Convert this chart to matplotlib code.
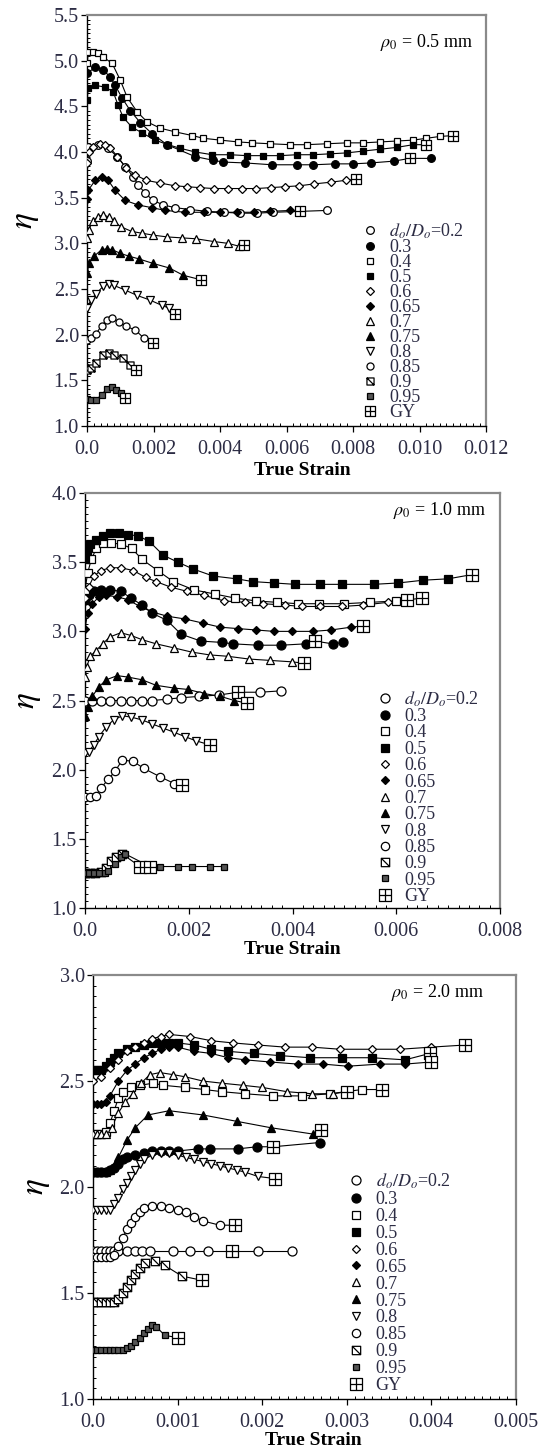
import numpy as np
import matplotlib
matplotlib.use("Agg")
import matplotlib.pyplot as plt
from matplotlib.lines import Line2D
from matplotlib.path import Path
from matplotlib.ticker import MultipleLocator, FuncFormatter

plt.rcParams["font.family"] = ["Liberation Serif", "DejaVu Serif"]
plt.rcParams["mathtext.fontset"] = "stix"

# strain values below are in units of 1e-3
codes = ["0.2", "0.3", "0.4", "0.5", "0.6", "0.65", "0.7", "0.75", "0.8", "0.85", "0.9", "0.95"]

# ---- rho0 = 0.5 mm ----
p1_02_x = [0, 0.03, 0.33, 0.63, 0.9, 1.14, 1.38, 1.53, 1.74, 1.98, 2.29, 2.65, 3.1, 3.6, 4.1, 4.6, 5.1, 5.6, 7.2]
p1_02_y = [3.9, 4.05, 4.08, 4.04, 3.95, 3.84, 3.73, 3.64, 3.55, 3.47, 3.42, 3.39, 3.37, 3.35, 3.34, 3.33, 3.33, 3.34, 3.36]
p1_03_x = [0, 0.24, 0.48, 0.69, 0.84, 1.05, 1.3, 1.6, 1.95, 2.4, 3.24, 3.78, 4.08, 4.75, 5.56, 6.3, 6.8, 7.45, 7.98, 8.52, 9.22, 10.34]
p1_03_y = [4.86, 4.93, 4.9, 4.82, 4.73, 4.59, 4.45, 4.32, 4.2, 4.08, 3.95, 3.91, 3.89, 3.88, 3.86, 3.86, 3.86, 3.87, 3.87, 3.88, 3.9, 3.93]
p1_04_x = [0, 0.03, 0.18, 0.33, 0.48, 0.75, 0.99, 1.2, 1.5, 1.8, 2.2, 2.65, 3.16, 3.49, 4.0, 4.54, 4.96, 5.5, 6.1, 6.6, 7.2, 7.8, 8.3, 8.8, 9.3, 9.8, 10.2, 10.6]
p1_04_y = [4.97, 5.09, 5.09, 5.08, 5.04, 4.97, 4.79, 4.6, 4.44, 4.33, 4.26, 4.22, 4.18, 4.15, 4.13, 4.11, 4.1, 4.09, 4.08, 4.08, 4.09, 4.1, 4.1, 4.11, 4.12, 4.13, 4.15, 4.17]
p1_05_x = [0, 0.03, 0.24, 0.54, 0.78, 0.93, 1.08, 1.35, 1.65, 2.04, 2.43, 2.8, 3.25, 3.76, 4.3, 4.8, 5.3, 5.8, 6.3, 6.8, 7.3, 7.8, 8.3, 8.8, 9.3, 9.8]
p1_05_y = [4.57, 4.7, 4.73, 4.71, 4.66, 4.51, 4.38, 4.27, 4.21, 4.13, 4.08, 4.04, 4.0, 3.97, 3.97, 3.96, 3.96, 3.96, 3.97, 3.97, 3.98, 3.99, 4.01, 4.03, 4.05, 4.08]
p1_06_x = [0, 0.05, 0.16, 0.38, 0.54, 0.7, 0.91, 1.18, 1.45, 1.77, 2.2, 2.63, 3.0, 3.38, 3.8, 4.23, 4.66, 5.09, 5.52, 5.95, 6.38, 6.81, 7.34, 7.77]
p1_06_y = [3.88, 4.0, 4.06, 4.09, 4.08, 4.04, 3.95, 3.82, 3.75, 3.69, 3.66, 3.63, 3.62, 3.61, 3.6, 3.6, 3.6, 3.6, 3.61, 3.62, 3.63, 3.65, 3.67, 3.69]
p1_065_x = [0, 0.03, 0.24, 0.45, 0.63, 0.84, 1.14, 1.53, 1.95, 2.35, 2.95, 3.5, 4.0, 4.5, 5.0, 5.5, 6.1]
p1_065_y = [3.48, 3.58, 3.69, 3.73, 3.69, 3.58, 3.47, 3.42, 3.39, 3.36, 3.34, 3.34, 3.34, 3.34, 3.34, 3.35, 3.36]
p1_07_x = [0, 0.05, 0.16, 0.32, 0.48, 0.64, 0.8, 1.02, 1.34, 1.66, 1.98, 2.41, 2.84, 3.27, 3.8, 4.23, 4.55]
p1_07_y = [3.06, 3.15, 3.24, 3.29, 3.31, 3.29, 3.24, 3.18, 3.13, 3.11, 3.09, 3.07, 3.06, 3.05, 3.02, 3.0, 2.97]
p1_075_x = [0, 0.05, 0.21, 0.43, 0.59, 0.75, 1.0, 1.25, 1.55, 1.98, 2.47, 2.89]
p1_075_y = [2.67, 2.78, 2.86, 2.93, 2.94, 2.93, 2.89, 2.86, 2.83, 2.78, 2.73, 2.65]
p1_08_x = [0, 0.11, 0.27, 0.48, 0.64, 0.8, 1.13, 1.5, 1.88, 2.25, 2.47]
p1_08_y = [2.29, 2.38, 2.45, 2.53, 2.56, 2.54, 2.49, 2.43, 2.38, 2.32, 2.29]
p1_085_x = [0, 0.11, 0.27, 0.43, 0.59, 0.75, 0.96, 1.18, 1.45, 1.71]
p1_085_y = [1.94, 1.96, 2.01, 2.1, 2.16, 2.18, 2.14, 2.09, 2.05, 1.96]
p1_09_x = [0, 0.11, 0.27, 0.48, 0.64, 0.8, 1.07, 1.29]
p1_09_y = [1.61, 1.63, 1.69, 1.78, 1.8, 1.78, 1.74, 1.67]
p1_095_x = [0, 0.11, 0.27, 0.43, 0.59, 0.75, 0.86, 1.02]
p1_095_y = [1.3, 1.28, 1.29, 1.34, 1.41, 1.43, 1.39, 1.36]
p1_gy = {"0.4": (11.0, 4.18), "0.5": (10.2, 4.08), "0.3": (9.7, 3.93), "0.6": (8.09, 3.7),
         "0.2": (6.4, 3.35), "0.7": (4.7, 2.98), "0.75": (3.43, 2.6), "0.8": (2.63, 2.23),
         "0.85": (1.98, 1.91), "0.9": (1.48, 1.61), "0.95": (1.15, 1.31)}

# ---- rho0 = 1.0 mm ----
p2_02_x = [0, 0.14, 0.31, 0.48, 0.69, 0.89, 1.1, 1.3, 1.58, 1.85, 2.2, 2.58, 3.37, 3.78]
p2_02_y = [2.5, 2.5, 2.5, 2.5, 2.5, 2.5, 2.5, 2.5, 2.51, 2.52, 2.53, 2.54, 2.56, 2.57]
p2_03_x = [0, 0.07, 0.17, 0.31, 0.48, 0.69, 0.89, 1.1, 1.3, 1.58, 1.85, 2.23, 2.64, 2.85, 3.33, 3.78, 4.26, 4.77, 4.98]
p2_03_y = [3.23, 3.26, 3.29, 3.3, 3.3, 3.29, 3.24, 3.19, 3.13, 3.08, 2.98, 2.93, 2.92, 2.91, 2.9, 2.9, 2.91, 2.91, 2.92]
p2_04_x = [0, 0.05, 0.12, 0.22, 0.35, 0.5, 0.7, 0.9, 1.1, 1.4, 1.7, 2.1, 2.5, 2.9, 3.3, 3.7, 4.1, 4.5, 5.0, 5.5, 6.0]
p2_04_y = [3.3, 3.42, 3.52, 3.6, 3.64, 3.64, 3.63, 3.6, 3.52, 3.44, 3.36, 3.3, 3.27, 3.24, 3.22, 3.21, 3.2, 3.2, 3.2, 3.21, 3.22]
p2_05_x = [0, 0.03, 0.1, 0.21, 0.34, 0.48, 0.65, 0.82, 1.03, 1.24, 1.51, 1.79, 2.09, 2.47, 2.92, 3.23, 3.64, 4.05, 4.53, 4.95, 5.56, 6.04, 6.52, 7.0]
p2_05_y = [3.52, 3.58, 3.63, 3.66, 3.69, 3.71, 3.71, 3.7, 3.69, 3.65, 3.55, 3.5, 3.45, 3.4, 3.38, 3.36, 3.35, 3.34, 3.34, 3.34, 3.34, 3.35, 3.37, 3.38]
p2_06_x = [0, 0.07, 0.17, 0.31, 0.48, 0.69, 0.93, 1.17, 1.37, 1.65, 1.96, 2.3, 2.68, 3.09, 3.43, 3.85, 4.19, 4.53, 4.95, 5.36, 5.84]
p2_06_y = [3.24, 3.32, 3.4, 3.44, 3.46, 3.46, 3.44, 3.39, 3.36, 3.32, 3.29, 3.26, 3.22, 3.21, 3.2, 3.19, 3.18, 3.18, 3.18, 3.19, 3.21]
p2_065_x = [0, 0.05, 0.14, 0.27, 0.41, 0.62, 0.82, 1.06, 1.3, 1.58, 1.92, 2.27, 2.61, 2.95, 3.3, 3.64, 3.98, 4.4, 4.74, 5.12]
p2_065_y = [3.02, 3.13, 3.2, 3.25, 3.26, 3.25, 3.23, 3.18, 3.14, 3.11, 3.09, 3.06, 3.03, 3.02, 3.01, 3.0, 3.0, 3.0, 3.01, 3.03]
p2_07_x = [0, 0.03, 0.1, 0.21, 0.34, 0.48, 0.69, 0.89, 1.1, 1.37, 1.72, 2.06, 2.4, 2.75, 3.16, 3.57, 3.98]
p2_07_y = [2.67, 2.74, 2.82, 2.86, 2.91, 2.96, 2.99, 2.97, 2.94, 2.91, 2.88, 2.85, 2.83, 2.82, 2.8, 2.79, 2.78]
p2_075_x = [0, 0.05, 0.14, 0.27, 0.41, 0.62, 0.82, 1.1, 1.37, 1.72, 1.99, 2.3, 2.61, 2.88]
p2_075_y = [2.39, 2.45, 2.53, 2.6, 2.65, 2.68, 2.67, 2.65, 2.61, 2.59, 2.58, 2.55, 2.53, 2.5]
p2_08_x = [0, 0.07, 0.17, 0.27, 0.41, 0.55, 0.72, 0.89, 1.1, 1.3, 1.51, 1.72, 1.92, 2.13]
p2_08_y = [2.12, 2.13, 2.18, 2.24, 2.31, 2.36, 2.39, 2.38, 2.36, 2.33, 2.3, 2.27, 2.24, 2.21]
p2_085_x = [0, 0.1, 0.21, 0.31, 0.45, 0.58, 0.72, 0.93, 1.13, 1.44, 1.72]
p2_085_y = [1.8, 1.8, 1.81, 1.87, 1.93, 1.99, 2.07, 2.06, 2.01, 1.95, 1.9]
p2_09_x = [0, 0.1, 0.2, 0.3, 0.4, 0.5, 0.6, 0.72]
p2_09_y = [1.25, 1.25, 1.25, 1.26, 1.29, 1.34, 1.37, 1.39]
p2_095_x = [0, 0.07, 0.17, 0.27, 0.38, 0.45, 0.58, 0.7, 0.78, 1.44, 1.79, 2.06, 2.4, 2.68]
p2_095_y = [1.25, 1.25, 1.25, 1.25, 1.25, 1.27, 1.32, 1.37, 1.39, 1.3, 1.3, 1.3, 1.3, 1.3]
p2_gy = {"0.5": (7.45, 3.41), "0.4": (6.5, 3.24), "0.6": (6.2, 3.23), "0.65": (5.36, 3.04),
         "0.3": (4.43, 2.93), "0.7": (4.22, 2.77), "0.2": (2.95, 2.56), "0.75": (3.13, 2.48),
         "0.8": (2.4, 2.18), "0.85": (1.87, 1.89), "0.9": (1.06, 1.3), "0.95": (1.25, 1.3)}

# ---- rho0 = 2.0 mm ----
p3_02_x = [0, 0.05, 0.1, 0.15, 0.2, 0.25, 0.3, 0.4, 0.5, 0.58, 0.67, 0.95, 1.15, 1.36, 1.95, 2.35]
p3_02_y = [1.7, 1.7, 1.7, 1.7, 1.7, 1.7, 1.7, 1.7, 1.7, 1.7, 1.7, 1.7, 1.7, 1.7, 1.7, 1.7]
p3_03_x = [0, 0.05, 0.1, 0.15, 0.2, 0.25, 0.3, 0.35, 0.4, 0.5, 0.6, 0.7, 0.8, 0.9, 1.0, 1.24, 1.38, 1.71, 1.94, 2.68]
p3_03_y = [2.07, 2.07, 2.07, 2.07, 2.08, 2.09, 2.11, 2.13, 2.14, 2.15, 2.16, 2.17, 2.17, 2.17, 2.17, 2.18, 2.18, 2.18, 2.19, 2.21]
p3_04_x = [0, 0.05, 0.1, 0.15, 0.2, 0.25, 0.3, 0.35, 0.45, 0.56, 0.71, 0.83, 1.09, 1.32, 1.52, 1.8, 2.13, 2.47, 2.8, 3.18]
p3_04_y = [2.25, 2.25, 2.25, 2.26, 2.3, 2.36, 2.42, 2.45, 2.47, 2.48, 2.49, 2.48, 2.47, 2.46, 2.45, 2.44, 2.43, 2.43, 2.44, 2.46]
p3_05_x = [0, 0.05, 0.1, 0.15, 0.2, 0.25, 0.3, 0.4, 0.5, 0.6, 0.7, 0.8, 0.9, 1.0, 1.2, 1.4, 1.6, 1.9, 2.21, 2.57, 2.94, 3.3, 3.69]
p3_05_y = [2.55, 2.55, 2.55, 2.57, 2.59, 2.61, 2.63, 2.65, 2.66, 2.67, 2.68, 2.68, 2.68, 2.68, 2.67, 2.65, 2.64, 2.63, 2.62, 2.61, 2.61, 2.61, 2.6]
p3_06_x = [0, 0.1, 0.2, 0.3, 0.4, 0.5, 0.6, 0.7, 0.8, 0.9, 1.15, 1.4, 1.65, 1.95, 2.27, 2.59, 2.92, 3.3, 3.63, 4.0]
p3_06_y = [2.5, 2.52, 2.56, 2.6, 2.64, 2.66, 2.68, 2.7, 2.71, 2.72, 2.71, 2.69, 2.68, 2.67, 2.66, 2.66, 2.65, 2.65, 2.65, 2.66]
p3_065_x = [0, 0.05, 0.1, 0.15, 0.2, 0.3, 0.4, 0.5, 0.6, 0.7, 0.8, 0.9, 1.0, 1.2, 1.4, 1.6, 1.8, 2.09, 2.42, 2.72, 3.01, 3.39, 3.69]
p3_065_y = [2.39, 2.39, 2.39, 2.4, 2.43, 2.5, 2.55, 2.58, 2.61, 2.63, 2.65, 2.66, 2.66, 2.64, 2.63, 2.61, 2.6, 2.59, 2.58, 2.58, 2.57, 2.58, 2.58]
p3_07_x = [0, 0.05, 0.1, 0.15, 0.22, 0.3, 0.38, 0.47, 0.57, 0.67, 0.79, 0.95, 1.09, 1.3, 1.52, 1.77, 2.0, 2.29, 2.59, 2.84]
p3_07_y = [2.25, 2.25, 2.25, 2.25, 2.28, 2.35, 2.4, 2.44, 2.49, 2.53, 2.54, 2.53, 2.52, 2.5, 2.49, 2.48, 2.47, 2.45, 2.44, 2.44]
p3_075_x = [0, 0.05, 0.1, 0.15, 0.2, 0.25, 0.3, 0.4, 0.5, 0.65, 0.9, 1.3, 1.7, 2.1, 2.6]
p3_075_y = [2.07, 2.07, 2.07, 2.07, 2.08, 2.1, 2.14, 2.22, 2.28, 2.34, 2.36, 2.34, 2.31, 2.28, 2.25]
p3_08_x = [0, 0.05, 0.1, 0.15, 0.2, 0.25, 0.3, 0.35, 0.4, 0.45, 0.5, 0.55, 0.6, 0.7, 0.8, 0.9, 1.0, 1.1, 1.2, 1.3, 1.4, 1.5, 1.6, 1.7, 1.8, 1.95]
p3_08_y = [1.89, 1.89, 1.89, 1.89, 1.89, 1.92, 1.95, 1.99, 2.02, 2.05, 2.08, 2.11, 2.13, 2.15, 2.16, 2.16, 2.15, 2.14, 2.13, 2.12, 2.11, 2.1, 2.09, 2.08, 2.07, 2.05]
p3_085_x = [0, 0.05, 0.1, 0.15, 0.2, 0.25, 0.3, 0.35, 0.4, 0.45, 0.5, 0.55, 0.6, 0.7, 0.8, 0.9, 1.0, 1.1, 1.2, 1.3, 1.5]
p3_085_y = [1.67, 1.67, 1.67, 1.67, 1.67, 1.68, 1.72, 1.76, 1.8, 1.83, 1.86, 1.88, 1.9, 1.91, 1.91, 1.9, 1.89, 1.88, 1.86, 1.84, 1.82]
p3_09_x = [0, 0.05, 0.1, 0.15, 0.2, 0.25, 0.3, 0.35, 0.4, 0.45, 0.5, 0.55, 0.61, 0.73, 0.85, 1.05]
p3_09_y = [1.46, 1.46, 1.46, 1.46, 1.46, 1.46, 1.47, 1.5, 1.53, 1.56, 1.59, 1.62, 1.64, 1.65, 1.63, 1.58]
p3_095_x = [0, 0.05, 0.1, 0.15, 0.2, 0.25, 0.3, 0.35, 0.4, 0.45, 0.5, 0.55, 0.6, 0.65, 0.7, 0.75, 0.85]
p3_095_y = [1.23, 1.23, 1.23, 1.23, 1.23, 1.23, 1.23, 1.23, 1.24, 1.25, 1.27, 1.29, 1.31, 1.33, 1.35, 1.34, 1.3]
p3_gy = {"0.6": (4.4, 2.67), "0.5": (3.98, 2.63), "0.65": (4.0, 2.59), "0.4": (3.42, 2.46),
         "0.7": (3.0, 2.45), "0.75": (2.7, 2.27), "0.3": (2.13, 2.19), "0.8": (2.15, 2.04),
         "0.85": (1.68, 1.82), "0.2": (1.64, 1.7), "0.9": (1.29, 1.56), "0.95": (1.0, 1.29)}

panels = [
    dict(series={"0.2": (p1_02_x, p1_02_y), "0.3": (p1_03_x, p1_03_y), "0.4": (p1_04_x, p1_04_y),
                 "0.5": (p1_05_x, p1_05_y), "0.6": (p1_06_x, p1_06_y), "0.65": (p1_065_x, p1_065_y),
                 "0.7": (p1_07_x, p1_07_y), "0.75": (p1_075_x, p1_075_y), "0.8": (p1_08_x, p1_08_y),
                 "0.85": (p1_085_x, p1_085_y), "0.9": (p1_09_x, p1_09_y), "0.95": (p1_095_x, p1_095_y)},
         gy=p1_gy, title=r"$\rho_0$ = 0.5 mm", title_pos=(0.965, 0.932),
         xlim=0.012, xmaj=0.002, xmin=0.0002, ylim=(1.0, 5.5),
         rect=[0.158, 0.707, 0.723, 0.2827], scale=0.85,
         leg=(0.685, 0.497), legsp=-0.11, ylab=(-0.155, 0.5), xlab=(0.54, -0.107)),
    dict(series={"0.2": (p2_02_x, p2_02_y), "0.3": (p2_03_x, p2_03_y), "0.4": (p2_04_x, p2_04_y),
                 "0.5": (p2_05_x, p2_05_y), "0.6": (p2_06_x, p2_06_y), "0.65": (p2_065_x, p2_065_y),
                 "0.7": (p2_07_x, p2_07_y), "0.75": (p2_075_x, p2_075_y), "0.8": (p2_08_x, p2_08_y),
                 "0.85": (p2_085_x, p2_085_y), "0.9": (p2_09_x, p2_09_y), "0.95": (p2_095_x, p2_095_y)},
         gy=p2_gy, title=r"$\rho_0$ = 1.0 mm", title_pos=(0.966, 0.959),
         xlim=0.008, xmaj=0.002, xmin=0.0002, ylim=(1.0, 4.0),
         rect=[0.154, 0.3755, 0.752, 0.2854], scale=1.0,
         leg=(0.70, 0.527), legsp=-0.035, ylab=(-0.137, 0.5), xlab=(0.50, -0.101)),
    dict(series={"0.2": (p3_02_x, p3_02_y), "0.3": (p3_03_x, p3_03_y), "0.4": (p3_04_x, p3_04_y),
                 "0.5": (p3_05_x, p3_05_y), "0.6": (p3_06_x, p3_06_y), "0.65": (p3_065_x, p3_065_y),
                 "0.7": (p3_07_x, p3_07_y), "0.75": (p3_075_x, p3_075_y), "0.8": (p3_08_x, p3_08_y),
                 "0.85": (p3_085_x, p3_085_y), "0.9": (p3_09_x, p3_09_y), "0.95": (p3_095_x, p3_095_y)},
         gy=p3_gy, title=r"$\rho_0$ = 2.0 mm", title_pos=(0.924, 0.958),
         xlim=0.005, xmaj=0.001, xmin=0.0001, ylim=(1.0, 3.0),
         rect=[0.1685, 0.0378, 0.766, 0.2916], scale=1.0,
         leg=(0.60, 0.536), legsp=-0.005, ylab=(-0.132, 0.5), xlab=(0.52, -0.097)),
]

slash_sq = Path([(-1, -1), (1, -1), (1, 1), (-1, 1), (-1, -1), (-1, 1), (1, -1)],
                [Path.MOVETO, Path.LINETO, Path.LINETO, Path.LINETO, Path.CLOSEPOLY,
                 Path.MOVETO, Path.LINETO])
gy_sq = Path([(-1, -1), (1, -1), (1, 1), (-1, 1), (-1, -1), (0, -1), (0, 1), (-1, 0), (1, 0)],
             [Path.MOVETO, Path.LINETO, Path.LINETO, Path.LINETO, Path.CLOSEPOLY,
              Path.MOVETO, Path.LINETO, Path.MOVETO, Path.LINETO])

W, K = "white", "black"
styles = {
    "0.2": dict(marker="o", mfc=W, ms=6.5),
    "0.3": dict(marker="o", mfc=K, ms=6.5),
    "0.4": dict(marker="s", mfc=W, ms=5.5),
    "0.5": dict(marker="s", mfc=K, ms=5.5),
    "0.6": dict(marker="D", mfc=W, ms=4.5),
    "0.65": dict(marker="D", mfc=K, ms=4.5),
    "0.7": dict(marker="^", mfc=W, ms=6),
    "0.75": dict(marker="^", mfc=K, ms=6),
    "0.8": dict(marker="v", mfc=W, ms=6),
    "0.85": dict(marker="o", mfc=W, ms=6),
    "0.9": dict(marker=slash_sq, mfc=W, ms=6),
    "0.95": dict(marker="s", mfc="#555555", ms=4.5),
}
gy_style = dict(marker=gy_sq, mfc=W, ms=9)

txt_col = "#2c2c44"


def fmt_x(v, pos):
    return "0.0" if abs(v) < 1e-12 else "%.3f" % v


fig = plt.figure(figsize=(5.52, 14.54), dpi=100)

for p in panels:
    ax = fig.add_axes(p["rect"])
    sc = p["scale"]
    for code in codes:
        xs = np.array(p["series"][code][0]) * 1e-3
        ys = np.array(p["series"][code][1])
        lx, ly = list(xs), list(ys)
        if code in p["gy"]:
            lx.append(p["gy"][code][0] * 1e-3)
            ly.append(p["gy"][code][1])
        order = np.argsort(lx, kind="stable")
        ax.plot(np.array(lx)[order], np.array(ly)[order], "-", color=K, lw=0.8, zorder=2)
        st = styles[code]
        ax.plot(xs, ys, ls="none", marker=st["marker"], mfc=st["mfc"], mec=K, mew=0.9,
                ms=st["ms"] * sc, zorder=3)
    gx = [v[0] * 1e-3 for v in p["gy"].values()]
    gyv = [v[1] for v in p["gy"].values()]
    ax.plot(gx, gyv, ls="none", marker=gy_style["marker"], mfc=W, mec=K, mew=0.9,
            ms=gy_style["ms"] * sc, zorder=4)

    ax.set_xlim(0, p["xlim"])
    ax.set_ylim(*p["ylim"])
    ax.xaxis.set_major_locator(MultipleLocator(p["xmaj"]))
    ax.xaxis.set_minor_locator(MultipleLocator(p["xmin"]))
    ax.yaxis.set_major_locator(MultipleLocator(0.5))
    ax.yaxis.set_minor_locator(MultipleLocator(0.05))
    ax.xaxis.set_major_formatter(FuncFormatter(fmt_x))
    ax.yaxis.set_major_formatter(FuncFormatter(lambda v, pos: "%.1f" % v))
    ax.tick_params(which="major", direction="out", length=4, width=0.9,
                   labelsize=14.5, labelcolor=txt_col)
    ax.tick_params(axis="x", which="major", pad=6)
    ax.tick_params(axis="y", which="major", pad=2)
    ax.tick_params(which="minor", direction="in", length=2.5, width=0.7)
    for s in ["top", "right"]:
        ax.spines[s].set_color("#8a8a8a")
        ax.spines[s].set_linewidth(1.6)
    for s in ["left", "bottom"]:
        ax.spines[s].set_linewidth(1.0)

    ax.set_xlabel("True Strain", fontsize=14, fontweight="bold")
    ax.xaxis.set_label_coords(*p["xlab"])
    ax.xaxis.label.set_va("center")
    ax.set_ylabel(r"$\eta$", fontsize=24)
    ax.yaxis.set_label_coords(*p["ylab"])
    ax.yaxis.label.set_va("center")
    ax.text(p["title_pos"][0], p["title_pos"][1], p["title"], transform=ax.transAxes,
            ha="right", va="center", fontsize=13)

    handles = []
    for code in codes:
        st = styles[code]
        handles.append(Line2D([], [], ls="none", marker=st["marker"], mfc=st["mfc"], mec=K,
                              mew=0.9, ms=st["ms"] * sc))
    handles.append(Line2D([], [], ls="none", marker=gy_style["marker"], mfc=W, mec=K,
                          mew=0.9, ms=gy_style["ms"] * sc))
    labels = [r"$d_o/D_o$=0.2"] + codes[1:] + ["GY"]
    leg = ax.legend(handles, labels, loc="upper left", bbox_to_anchor=p["leg"], frameon=False,
                    fontsize=13, handlelength=1.0, handletextpad=0.6, labelspacing=p["legsp"],
                    borderpad=0, borderaxespad=0)
    for t in leg.get_texts():
        t.set_color(txt_col)

fig.savefig("out.png", dpi=100)
